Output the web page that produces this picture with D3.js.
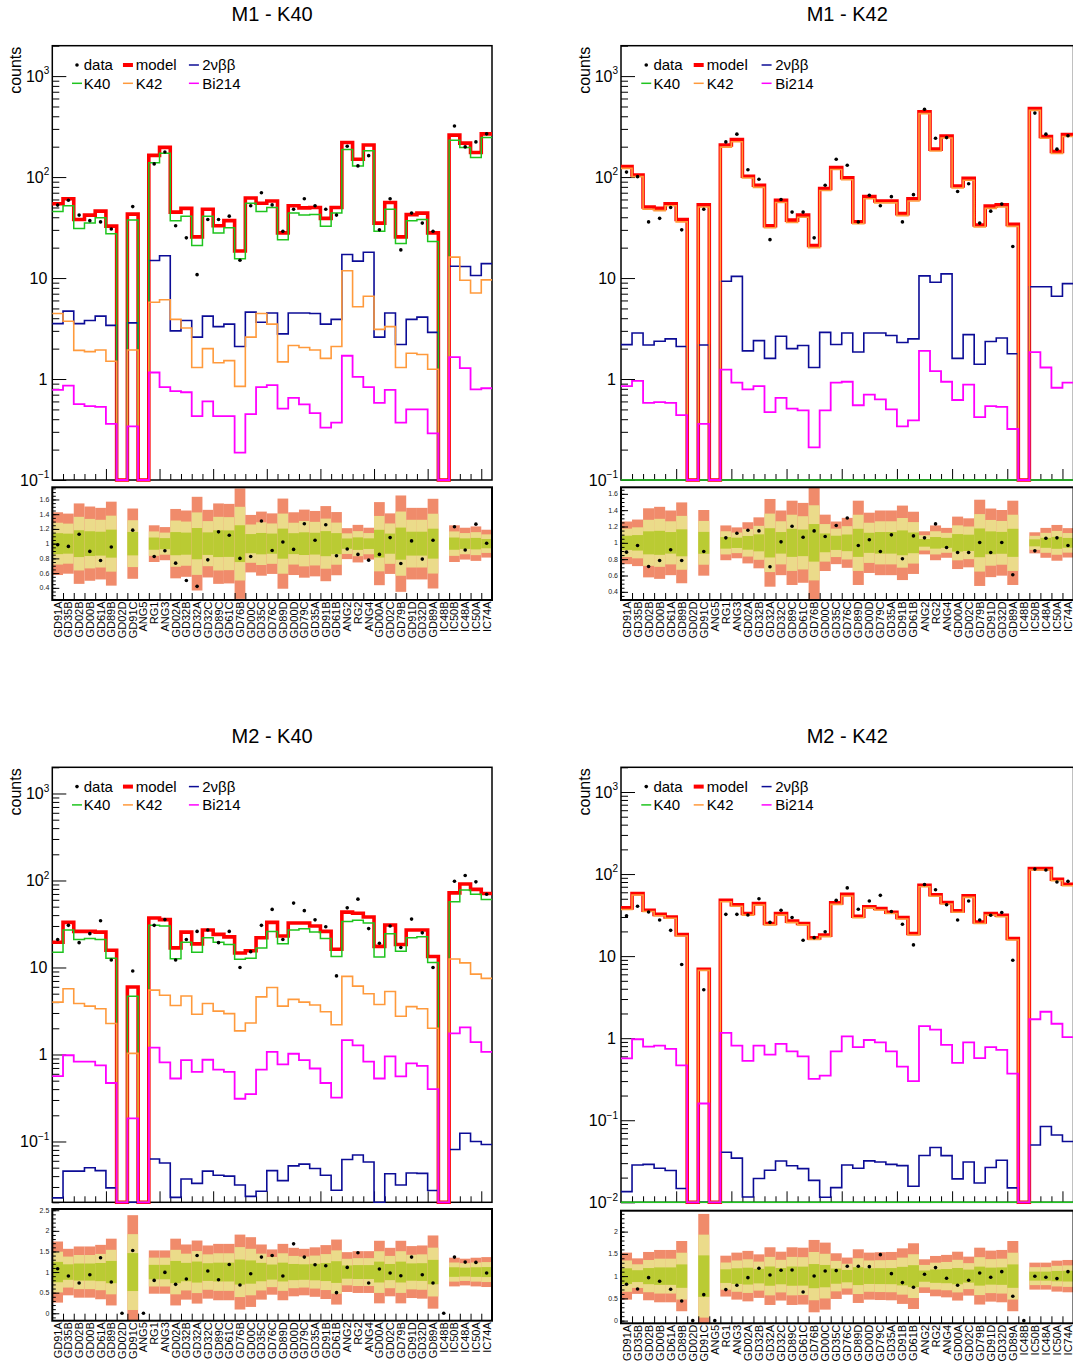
<!DOCTYPE html>
<html>
<head>
<meta charset="utf-8">
<script src="https://cdn.jsdelivr.net/npm/d3@7"></script>
<style>
  body { margin: 0; background: #fff; }
  svg text { font-family: "Liberation Sans", Arial, Helvetica, sans-serif; }
</style>
</head>
<body>
<div id="chart"></div>
<script>
/* Fit result per detector channel: 4 pads (M1/M2 x K40/K42), each with counts + data/model ratio */
const bins = ["GD91A","GD35B","GD02B","GD00B","GD61A","GD89B","GD02D","GD91C","ANG5","RG1",
  "ANG3","GD02A","GD32B","GD32A","GD32C","GD89C","GD61C","GD76B","GD00C","GD35C",
  "GD76C","GD89D","GD00D","GD79C","GD35A","GD91B","GD61B","ANG2","RG2","ANG4",
  "GD00A","GD02C","GD79B","GD91D","GD32D","GD89A","IC48B","IC50B","IC48A","IC50A","IC74A"];

// tick labels
const countTicks = [1e-2, 1e-1, 1, 10, 100, 1000];
const countTickLabels = [["10","\u22122"],["10","\u22121"],["1",""],["10",""],["10","2"],["10","3"]];
const ratioTicksM1 = [0.4, 0.6, 0.8, 1, 1.2, 1.4, 1.6];
const ratioTicksM2 = [0, 0.5, 1, 1.5, 2, 2.5];

// ---- M1 - K40
const m1k40Data  = [52.8,59,42,37,36,30.6,0,51,0,135,177,33,25,10.8,38,38,41,15,52,70,53,29,48,61,52,48,42,202,129,163,30,61,19,44,35,29,0,321,199,223,268];
const m1k40Model = [54.5,61,38,42,46,32.7,0,43,0,164,197,45,49,25.6,48,33,37,18.5,62,55,58,28,52,49.5,50,39,50,220,150,208,35,56,25.6,42.5,44,28,0,260,217,175,268];
const m1k40K40   = [45.7,52,31,35,39.5,27.5,0,37.5,0,139,172,37,41,21,41,28,31.5,15.5,55,45.5,50,24,44,42,42.5,32.5,44,187,129,182,29,48,22,37,38,23,0,232,196,156,246];
const m1k40K42   = [4.45,3.73,1.92,1.87,1.94,1.5,0,1.94,0,5.76,6.1,3.9,3.2,1.3,2.0,1.45,1.52,0.845,2.6,4.45,3.5,1.48,2.15,2.05,1.94,1.6,2.1,11.8,5.2,6.6,3.1,3.3,1.3,1.8,1.75,1.25,0,16.1,9.5,7.1,9.6];
const m1k40Bb    = [3.54,4.7,3.54,3.8,4.2,3.4,0,3.6,0,14.9,16.6,3.0,3.8,2.6,4.2,3.3,3.5,2.1,4.6,3.65,4.5,2.8,4.5,4.5,4.45,3.5,3.9,17.1,14.7,18,2.6,4.5,2.2,3.9,4.1,2.9,0,13.1,13,10.6,13.9];
const m1k40Bi    = [0.78,0.86,0.565,0.54,0.53,0.36,0,0.34,0,1.16,0.83,0.76,0.74,0.43,0.6,0.43,0.43,0.187,0.45,0.83,0.87,0.51,0.65,0.56,0.46,0.33,0.37,1.7,1.05,0.83,0.58,0.78,0.37,0.5,0.5,0.29,0,1.65,1.28,0.79,0.81];
const m1k40Ratio = [0.986,0.963,1.128,0.895,0.771,0.954,null,1.183,null,0.826,0.904,0.735,0.50,0.42,0.78,1.16,1.114,0.80,0.826,1.307,0.908,1.023,0.922,1.27,1.046,1.256,0.835,0.927,0.854,0.776,0.854,1.082,0.73,1.037,0.79,1.046,null,1.229,0.913,1.265,1.005];
const m1k40Sigma = [0.142,0.136,0.182,0.168,0.162,0.19,null,0.159,null,0.083,0.075,0.157,0.15,0.212,0.153,0.182,0.18,0.25,0.13,0.145,0.137,0.204,0.142,0.154,0.148,0.17,0.143,0.07,0.085,0.072,0.188,0.137,0.218,0.162,0.162,0.203,null,0.083,0.072,0.078,0.063];

// ---- M1 - K42
const m1k42Data  = [112,101,36,39,50,30,0,48,0,223,266,118,95,24,60,45,45,25,83,150,131,36,66,52,64,36,67,470,242,246,72,86,35,46,54,20.5,0,430,266,189,257];
const m1k42Model = [127,105,50.5,49,54.5,38,0,53,0,208,235,102,83,33,59,37.5,42,21,77,124,98.5,36,64,58,58,43.5,61,443,189,255,81.5,97,33.5,51.5,53,34,0,477,252,179,263];
const m1k42K40   = [0,0,0,0,0,0,0,0,0,0,0,0,0,0,0,0,0,0,0,0,0,0,0,0,0,0,0,0,0,0,0,0,0,0,0,0,0,0,0,0,0];
const m1k42K42   = [122,101,48,46.5,52,36,0,50.5,0,198,224,98,79,31.5,56,35.5,40,20,73.5,119,94,34.5,61,55.5,55.5,41.5,58,425,181,244,78,93,32,49,50.5,32.5,0,458,242,171,252];
const m1k42Bb    = [2.19,2.86,2.17,2.37,2.5,2.1,0,2.17,0,9.3,10.4,1.9,2.4,1.6,2.65,2.0,2.15,1.3,2.9,2.2,2.86,1.85,2.86,2.86,2.7,2.3,2.5,10.5,9.1,11,1.6,2.75,1.4,2.35,2.55,1.78,0,8.2,8.2,6.6,8.8];
const m1k42Bi    = [0.85,0.96,0.58,0.59,0.58,0.44,0,0.36,0,1.24,0.92,0.79,0.85,0.47,0.65,0.51,0.49,0.21,0.49,0.92,0.94,0.55,0.7,0.63,0.5,0.34,0.39,1.9,1.2,0.94,0.62,0.88,0.42,0.54,0.53,0.32,0,1.85,1.3,0.82,0.92];
const m1k42Ratio = [0.886,0.967,0.711,0.784,0.915,0.784,null,0.894,null,1.061,1.118,1.155,1.146,0.707,1.012,1.203,1.069,1.146,1.077,1.212,1.305,0.967,1.037,0.894,1.098,0.805,1.085,1.061,1.232,0.943,0.882,0.882,1.004,0.882,1.004,0.609,null,0.902,1.057,1.061,0.967];
const m1k42Sigma = [0.087,0.095,0.141,0.147,0.132,0.165,null,0.134,null,0.071,0.063,0.084,0.104,0.179,0.132,0.172,0.163,0.23,0.115,0.087,0.102,0.172,0.123,0.132,0.132,0.152,0.127,0.047,0.071,0.061,0.107,0.10,0.176,0.14,0.134,0.172,null,0.043,0.061,0.073,0.06];

// ---- M2 - K40
const m2k40Data  = [21,30.5,19.3,24.5,34.5,12.2,0,9.1,0,30.5,35.5,12.2,21,26,27,19.3,26,10,15.2,30.5,46.5,21,55,45,35.3,29.4,8.0,48.5,61,28,19,30,17,36,25,10,0,98,114,96.5,69.5];
const m2k40Model = [19.5,33,26,26,25.5,15.8,0,5.97,0,37,35.5,16.8,25.5,18.7,27,24,22.5,14.7,15.6,22,33,23,32.5,32.5,30,26,16.2,43.3,42,38,17.5,30.8,18.4,27,27,13.4,0,72,91,79,71];
const m2k40K40   = [15,27,21,21.6,21,12.8,0,4.68,0,30.5,30,12.6,19.5,15,22,19.5,18.4,12.4,12.8,16.8,26,18.7,27,27.8,25.5,21.6,13.4,33.8,35,32.5,13.2,24.5,15.4,22,22.5,11.4,0,57,77.5,69.5,60.5];
const m2k40K42   = [4.0,5.7,3.85,3.6,3.35,2.27,0,1.03,0,5.5,4.8,3.65,4.7,2.9,3.85,3.15,2.95,1.87,2.3,4.6,5.9,3.6,4.3,4.0,3.7,3.1,2.2,7.9,6.1,5.0,3.75,5.3,2.75,3.55,3.35,2.0,0,12.5,11.3,8.4,7.5];
const m2k40Bb    = [0.0225,0.0456,0.0456,0.05,0.0462,0.0293,0,0.019,0,0.063,0.0565,0.0228,0.037,0.033,0.0456,0.041,0.04,0.0316,0.0234,0.0268,0.0462,0.0355,0.0525,0.055,0.049,0.041,0.0275,0.062,0.07,0.058,0.019,0.0425,0.0316,0.0435,0.043,0.0273,0,0.081,0.1245,0.1,0.0925];
const m2k40Bi    = [0.564,0.98,0.83,0.83,0.75,0.47,0,0.184,0,1.2,0.81,0.53,0.86,0.63,0.87,0.67,0.63,0.31,0.35,0.67,1.07,0.77,1.02,0.86,0.69,0.47,0.32,1.46,1.27,0.83,0.53,0.95,0.56,0.79,0.74,0.4,0,1.75,2.05,1.39,1.07];
const m2k40Ratio = [1.08,0.903,0.734,0.935,1.347,0.758,0,1.524,0,0.798,0.992,0.702,0.831,1.403,1.024,0.815,1.185,0.685,0.96,1.363,1.403,0.903,1.685,1.363,1.177,1.153,0.50,1.113,1.468,0.734,1.073,0.976,0.911,1.363,0.935,0.734,0,1.363,1.242,1.234,0.976];
const m2k40Sigma = [0.247,0.188,0.207,0.207,0.22,0.27,null,0.46,null,0.175,0.175,0.27,0.223,0.255,0.215,0.228,0.228,0.303,0.282,0.223,0.183,0.228,0.196,0.188,0.2,0.218,0.263,0.161,0.169,0.169,0.253,0.196,0.253,0.21,0.215,0.296,null,0.116,0.108,0.116,0.121];

// ---- M2 - K42
const m2k42Data  = [31,40.5,34.5,27.6,20.6,7.9,0,3.9,0,32.3,32.3,31.7,50,25.8,36.3,29.5,15.6,16.8,19.8,47.8,67.8,37.2,47,55,35,24.5,13.7,74.5,64.5,42.3,27.6,47,27.6,31.5,34,8.9,0,115,112,80,81.5];
const m2k42Model = [38.7,57.8,36.3,32.3,30,18.3,0,6.93,0,48,42.3,33,43.6,25,33,26.7,25,16.7,18,44.5,56.5,30.6,40,38,34.3,29.5,18.9,73,56,45,35.6,54.3,26,33,31.5,16.4,0,116.6,116.6,86.6,75];
const m2k42K40   = [0,0,0,0,0,0,0,0,0,0,0,0,0,0,0,0,0,0,0,0,0,0,0,0,0,0,0,0,0,0,0,0,0,0,0,0,0,0,0,0,0];
const m2k42K42   = [37,55.5,35,31,29,17.6,0,6.7,0,46,40.5,31.6,42,24,31.6,25.6,24,16,17.3,42.7,54,29.4,38.4,36.5,33,28.3,18.1,70,53.7,43.2,34.2,52,25,31.6,30.2,15.7,0,112,112,83,72];
const m2k42Bb    = [0.0135,0.0285,0.029,0.026,0.0244,0.0147,0,0.009,0,0.0408,0.0345,0.0116,0.0195,0.0246,0.0319,0.0279,0.0257,0.0185,0.0115,0.0151,0.0285,0.026,0.032,0.031,0.029,0.028,0.0157,0.0372,0.0465,0.037,0.0193,0.031,0.0172,0.0265,0.0325,0.015,0,0.05,0.084,0.066,0.055];
const m2k42Bi    = [0.567,0.97,0.79,0.81,0.74,0.465,0,0.16,0,1.16,0.81,0.53,0.81,0.63,0.85,0.69,0.6,0.32,0.35,0.69,1.05,0.78,0.95,0.89,0.69,0.45,0.3,1.4,1.27,0.83,0.5,0.89,0.57,0.78,0.72,0.37,0,1.7,2.1,1.5,1.03];
const m2k42Ratio = [0.816,0.712,0.966,0.884,0.704,0.442,0,0.584,0,0.697,0.794,0.966,1.176,1.026,1.131,1.139,0.644,1.004,1.116,1.124,1.221,1.221,1.213,1.483,1.056,0.854,0.749,1.041,1.191,0.951,0.794,0.906,1.071,0.974,1.101,0.547,0,0.996,0.974,0.944,1.101];
const m2k42Sigma = [0.176,0.133,0.181,0.196,0.196,0.263,null,0.466,null,0.153,0.176,0.189,0.163,0.216,0.183,0.216,0.213,0.271,0.251,0.171,0.139,0.201,0.176,0.179,0.181,0.208,0.246,0.126,0.151,0.159,0.183,0.146,0.213,0.191,0.196,0.263,null,0.101,0.101,0.116,0.121];

const colors = { model: "#ff0000", bb: "#0c0c96", k40: "#1fc41f", k42: "#ff9a3c", bi: "#ff00ff" };
const bandColors = ["#f08b6b", "#ebdb8a", "#bacb33"]; // 3 sigma, 2 sigma, 1 sigma

const panels = [
  { title: "M1 - K40", left: 52.3, right: 492, top: 45.7, bottom: 480, rTop: 487.3, rBottom: 600,
    yDomain: [0.1, 2000], rDomain: [0.235, 1.765], rTicks: ratioTicksM1, rMinor: 0.05,
    data: m1k40Data, model: m1k40Model, k40: m1k40K40, k42: m1k40K42, bb: m1k40Bb, bi: m1k40Bi, ratio: m1k40Ratio, sigma: m1k40Sigma },
  { title: "M1 - K42", left: 621, right: 1073.5, top: 45.7, bottom: 480, rTop: 487.3, rBottom: 600,
    yDomain: [0.1, 2000], rDomain: [0.3, 1.68], rTicks: ratioTicksM1, rMinor: 0.05,
    data: m1k42Data, model: m1k42Model, k40: m1k42K40, k42: m1k42K42, bb: m1k42Bb, bi: m1k42Bi, ratio: m1k42Ratio, sigma: m1k42Sigma },
  { title: "M2 - K40", left: 52.3, right: 492, top: 767.3, bottom: 1202.3, rTop: 1209, rBottom: 1320.7,
    yDomain: [0.02, 2000], rDomain: [-0.18, 2.53], rTicks: ratioTicksM2, rMinor: 0.1,
    data: m2k40Data, model: m2k40Model, k40: m2k40K40, k42: m2k40K42, bb: m2k40Bb, bi: m2k40Bi, ratio: m2k40Ratio, sigma: m2k40Sigma },
  { title: "M2 - K42", left: 621, right: 1073.5, top: 767.3, bottom: 1202.3, rTop: 1210.7, rBottom: 1323.3,
    yDomain: [0.01, 2000], rDomain: [-0.06, 2.47], rTicks: ratioTicksM2, rMinor: 0.1,
    data: m2k42Data, model: m2k42Model, k40: m2k42K40, k42: m2k42K42, bb: m2k42Bb, bi: m2k42Bi, ratio: m2k42Ratio, sigma: m2k42Sigma }
];

const svg = d3.select("#chart").append("svg")
    .attr("width", 1073)
    .attr("height", 1363);

function drawPanel(p, idx) {
  const g = svg.append("g");
  const n = bins.length;
  const x = d3.scaleLinear().domain([0, n]).range([p.left, p.right]);
  const y = d3.scaleLog().domain(p.yDomain).range([p.bottom, p.top]);
  const yr = d3.scaleLinear().domain(p.rDomain).range([p.rBottom, p.rTop]);
  const sc = (p.right - p.left) / 440;

  // clip areas
  const defs = g.append("defs");
  defs.append("clipPath").attr("id", "clipM" + idx).append("rect")
    .attr("x", p.left - 2).attr("y", p.top).attr("width", p.right - p.left + 4).attr("height", p.bottom - p.top + 2);
  defs.append("clipPath").attr("id", "clipR" + idx).append("rect")
    .attr("x", p.left).attr("y", p.rTop).attr("width", p.right - p.left).attr("height", p.rBottom - p.rTop);

  // title
  g.append("text")
    .attr("x", (p.left + p.right) / 2).attr("y", p.top - 24.7)
    .attr("text-anchor", "middle").attr("font-size", 20)
    .text(p.title);

  // y label
  g.append("text")
    .attr("transform", `translate(${p.left - 31},${p.top + 1}) rotate(-90)`)
    .attr("text-anchor", "end").attr("font-size", 16)
    .text("counts");

  // frame
  g.append("rect")
    .attr("x", p.left).attr("y", p.top).attr("width", p.right - p.left).attr("height", p.bottom - p.top)
    .attr("fill", "none").attr("stroke", "#000").attr("stroke-width", 1.5);

  // log axis ticks (inward)
  const yt = y.ticks().filter(v => v >= p.yDomain[0] * 0.999 && v <= p.yDomain[1]);
  const isMajor = v => Math.abs(Math.log10(v) - Math.round(Math.log10(v))) < 1e-6;
  const yAxisMinor = d3.axisRight(y).tickValues(yt.filter(v => !isMajor(v))).tickSize(7).tickFormat("");
  const yAxisMajor = d3.axisRight(y).tickValues(yt.filter(isMajor)).tickSize(14).tickFormat("");
  [yAxisMinor, yAxisMajor].forEach(ax => {
    const a = g.append("g").attr("transform", `translate(${p.left},0)`).call(ax);
    a.select(".domain").remove();
    a.selectAll("line").attr("stroke", "#000");
  });

  // decade labels
  countTicks.forEach((v, i) => {
    if (v < p.yDomain[0] * 0.999 || v > p.yDomain[1]) return;
    const [base, sup] = countTickLabels[i];
    const t = g.append("text")
      .attr("x", sup ? p.left - 3 : p.left - 5).attr("y", y(v)).attr("dy", "0.36em")
      .attr("text-anchor", "end").attr("font-size", 16)
      .text(base);
    if (sup) t.append("tspan").attr("font-size", 10).attr("dy", "-0.75em").text(sup);
  });

  // bottom ticks of the main pad
  const xMinor = d3.axisTop(x).tickValues(d3.range(1, n).filter(v => v % 5)).tickSize(6).tickFormat("");
  const xMajor = d3.axisTop(x).tickValues(d3.range(5, n, 5)).tickSize(11).tickFormat("");
  [xMinor, xMajor].forEach(ax => {
    const a = g.append("g").attr("transform", `translate(0,${p.bottom})`).call(ax);
    a.select(".domain").remove();
    a.selectAll("line").attr("stroke", "#000");
  });

  // histograms
  const yMin = p.yDomain[0];
  const step = d3.line()
    .x(d => x(d.i))
    .y(d => y(Math.max(d.v, yMin)))
    .curve(d3.curveStepAfter);
  const toPts = vals => vals.map((v, i) => ({ i: i, v: v })).concat([{ i: n, v: vals[n - 1] }]);
  const hg = g.append("g").attr("clip-path", `url(#clipM${idx})`);
  const series = [
    { vals: p.model, color: colors.model, w: 3.6 },
    { vals: p.bb, color: colors.bb, w: 1.6 },
    { vals: p.k40, color: colors.k40, w: 1.5 },
    { vals: p.k42, color: colors.k42, w: 1.6 },
    { vals: p.bi, color: colors.bi, w: 1.8 }
  ];
  series.forEach(s => {
    hg.append("path")
      .datum(toPts(s.vals))
      .attr("d", step)
      .attr("fill", "none")
      .attr("stroke", s.color)
      .attr("stroke-width", s.w);
  });
  hg.selectAll("circle.data")
    .data(p.data.map((v, i) => ({ i, v })).filter(d => d.v > 0))
    .join("circle")
    .attr("class", "data")
    .attr("cx", d => x(d.i + 0.5)).attr("cy", d => y(d.v)).attr("r", 1.8)
    .attr("fill", "#000");

  // legend
  const lx = p.left, ly1 = p.top + 19.3, ly2 = p.top + 37.6;
  const leg = g.append("g").attr("font-size", 15);
  const legItems = [
    { label: "data", type: "dot", col: 0, row: 0 },
    { label: "model", color: colors.model, w: 4, col: 1, row: 0 },
    { label: "2\u03bd\u03b2\u03b2", color: colors.bb, w: 1.5, col: 2, row: 0 },
    { label: "K40", color: colors.k40, w: 1.5, col: 0, row: 1 },
    { label: "K42", color: colors.k42, w: 1.5, col: 1, row: 1 },
    { label: "Bi214", color: colors.bi, w: 1.5, col: 2, row: 1 }
  ];
  const colMark = [19.7, 70.7, 136.7], colText = [31.5, 83.5, 150];
  legItems.forEach(it => {
    const yy = it.row ? ly2 : ly1;
    const m0 = lx + colMark[it.col] * sc;
    if (it.type === "dot") {
      leg.append("circle").attr("cx", m0 + 5).attr("cy", yy).attr("r", 1.8).attr("fill", "#000");
    } else {
      leg.append("line").attr("x1", m0).attr("x2", m0 + 10).attr("y1", yy).attr("y2", yy)
        .attr("stroke", it.color).attr("stroke-width", it.w);
    }
    leg.append("text").attr("x", lx + colText[it.col] * sc).attr("y", yy).attr("dy", "0.36em").text(it.label);
  });

  // ratio pad
  const rg = g.append("g").attr("clip-path", `url(#clipR${idx})`);
  p.sigma.forEach((s, i) => {
    if (s === null) return;
    [3, 2, 1].forEach((k, j) => {
      rg.append("rect")
        .attr("x", x(i)).attr("width", x(i + 1) - x(i))
        .attr("y", yr(1 + k * s)).attr("height", yr(1 - k * s) - yr(1 + k * s))
        .attr("fill", bandColors[j]);
    });
  });
  rg.selectAll("circle.ratio")
    .data(p.ratio.map((v, i) => ({ i, v })).filter(d => d.v !== null))
    .join("circle")
    .attr("class", "ratio")
    .attr("cx", d => x(d.i + 0.5)).attr("cy", d => yr(d.v)).attr("r", 1.8)
    .attr("fill", "#000");

  g.append("rect")
    .attr("x", p.left).attr("y", p.rTop).attr("width", p.right - p.left).attr("height", p.rBottom - p.rTop)
    .attr("fill", "none").attr("stroke", "#000").attr("stroke-width", 2);

  const rMinorVals = d3.range(Math.ceil(p.rDomain[0] / p.rMinor) * p.rMinor, p.rDomain[1], p.rMinor);
  const rAxMinor = d3.axisRight(yr).tickValues(rMinorVals).tickSize(3.5).tickFormat("");
  const rAxMajor = d3.axisRight(yr).tickValues(p.rTicks.filter(v => v > p.rDomain[0] && v < p.rDomain[1]))
    .tickSize(7).tickFormat("");
  [rAxMinor, rAxMajor].forEach(ax => {
    const a = g.append("g").attr("transform", `translate(${p.left},0)`).call(ax);
    a.select(".domain").remove();
    a.selectAll("line").attr("stroke", "#000");
  });
  p.rTicks.filter(v => v > p.rDomain[0] && v < p.rDomain[1]).forEach(v => {
    g.append("text")
      .attr("x", p.left - 3).attr("y", yr(v)).attr("dy", "0.35em")
      .attr("text-anchor", "end").attr("font-size", 7).attr("fill", "#222")
      .text(String(+v.toFixed(1)));
  });

  const rx = d3.axisTop(x).tickValues(d3.range(1, n)).tickSize(7).tickFormat("");
  const ra = g.append("g").attr("transform", `translate(0,${p.rBottom})`).call(rx);
  ra.select(".domain").remove();
  ra.selectAll("line").attr("stroke", "#000");

  // channel labels
  g.append("g").selectAll("text")
    .data(bins)
    .join("text")
    .attr("transform", (d, i) => `translate(${x(i + 0.5) + 4},${p.rBottom + 1.5}) rotate(-90)`)
    .attr("text-anchor", "end")
    .attr("font-size", 11)
    .text(d => d);
}

panels.forEach(drawPanel);
</script>
</body>
</html>
